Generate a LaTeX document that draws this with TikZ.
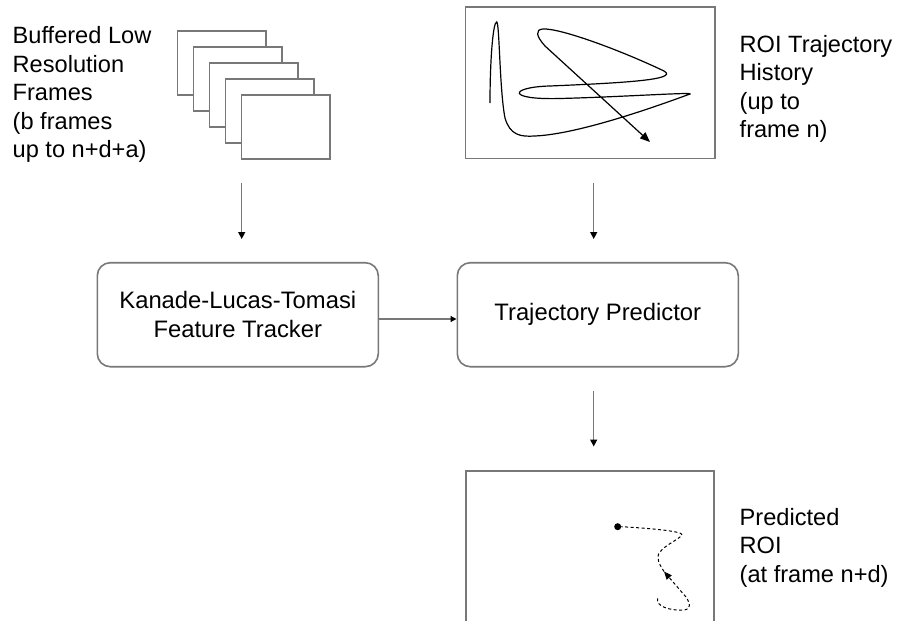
\documentclass[tikz,border=0pt]{standalone}
\usepackage{fontspec}
\setmainfont{Liberation Sans}
\usetikzlibrary{arrows.meta}
\definecolor{edgegray}{RGB}{120,120,120}
\begin{document}
\begin{tikzpicture}[x=1pt,y=-1pt,
  lbl/.style={font=\fontsize{23.6}{28.6}\selectfont, inner sep=0pt, align=left, anchor=north west},
  bufframe/.style={draw=edgegray, line width=1.4pt, fill=white, minimum width=88.3pt, minimum height=64pt, inner sep=0pt},
  plainbox/.style={draw=edgegray, line width=1.6pt, inner sep=0pt},
  pbox/.style={draw=edgegray, line width=1.6pt, rounded corners=13pt, minimum width=281pt, minimum height=104pt, align=center, font=\fontsize{23.8}{28.6}\selectfont},
  conn/.style={draw=edgegray, line width=1.3pt, -{Triangle[length=7pt,width=7pt,color=black]}},
  traj/.style={black, line width=1.2pt},
  predpath/.style={black, line width=1pt, dash pattern=on 3pt off 2.5pt},
]
\useasboundingbox (0,0) rectangle (898,621);

% buffered frames
\node[bufframe] (f1) at (221.8,63) {};
\node[bufframe] (f2) at (237.8,79) {};
\node[bufframe] (f3) at (253.8,95) {};
\node[bufframe] (f4) at (269.8,111) {};
\node[bufframe] (f5) at (285.8,127) {};
\node[lbl] (bufl) at (12.5,26.2) {Buffered Low\\Resolution\\Frames\\(b frames\\up to n+d+a)};

% trajectory history
\node[plainbox, minimum width=249.3pt, minimum height=151.6pt] (hist) at (590.3,82.5) {};
\node[lbl] (histl) at (739.5,34.8) {ROI Trajectory\\History\\(up to\\frame n)};
\draw[traj, -{Triangle[length=10pt,width=8pt]}] (490,103) .. controls (490,60) and (493,22) .. (496.7,22)
  .. controls (499.5,22) and (499.5,90) .. (505,118)
  .. controls (510,135) and (520,137) .. (535,136)
  .. controls (580,134) and (660,105) .. (690,94)
  .. controls (694,92) and (620,97) .. (560,98.5)
  .. controls (505,100) and (510,87) .. (550,86)
  .. controls (620,83) and (680,80) .. (664,71)
  .. controls (620,50) and (560,28) .. (543,29)
  .. controls (535,29.5) and (536,36) .. (545,46)
  -- (650,142);

% process boxes
\node[pbox] (klt) at (237.8,314.7) {Kanade-Lucas-Tomasi\\Feature Tracker};
\node[pbox] (tp) at (597.8,314.7) {Trajectory Predictor};

% predicted ROI
\coordinate (pb1) at (466,622);
\coordinate (pb2) at (466,470.7);
\coordinate (pb3) at (714,470.7);
\coordinate (pb4) at (714,622);
\draw[draw=edgegray, line width=1.6pt] (pb1) -- (pb2) -- (pb3) -- (pb4);
\node[lbl] (predl) at (739.5,508) {Predicted\\ROI\\(at frame n+d)};
\node[circle, fill=black, inner sep=0pt, minimum size=7pt] (dot) at (617.7,526.7) {};
\coordinate (pstart) at (657.7,598.3);
\coordinate (pmid) at (664,571.5);
\draw[predpath, -{Triangle[length=8pt,width=6.5pt]}] (pstart) .. controls (655,606) and (670,611) .. (684,610)
  .. controls (692,609) and (690,603) .. (686,597) -- (pmid);
\draw[predpath] (pmid) .. controls (660,565) and (655,558) .. (660,552)
  .. controls (665,545) and (678,540) .. (682,535)
  .. controls (684,531) and (645,528) .. (dot.east);

% connectors
\coordinate (a1s) at (241.7,182.7);
\coordinate (a1e) at (241.7,239);
\coordinate (a2s) at (593.7,182.7);
\coordinate (a2e) at (593.7,239);
\coordinate (a3s) at (593.7,390.7);
\coordinate (a3e) at (593.7,446.5);
\draw[conn] (a1s) -- (a1e);
\draw[conn] (a2s) -- (a2e);
\draw[conn] (a3s) -- (a3e);
\draw[draw=edgegray, line width=1.3pt, -{Triangle[length=6pt,width=6pt,color=black]}] ([yshift=-4.3pt]klt.east) -- ([yshift=-4.3pt]tp.west);
\end{tikzpicture}
\end{document}
